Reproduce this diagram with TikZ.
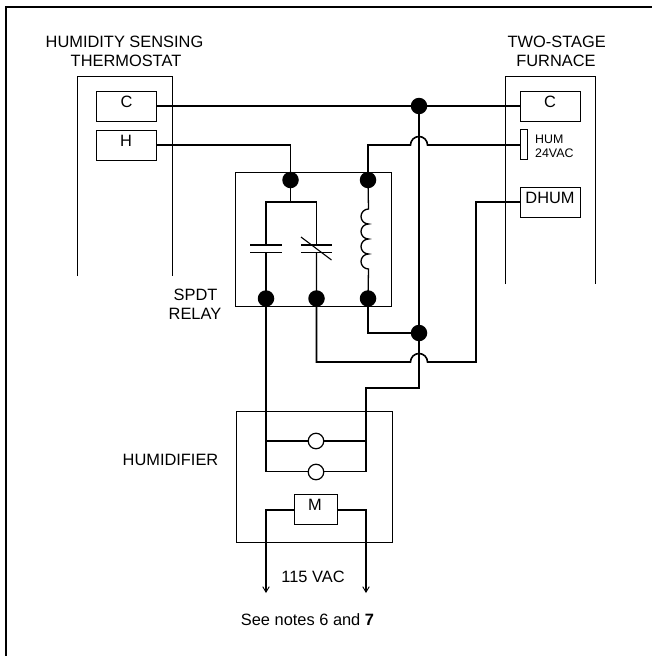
\documentclass[tikz,border=0pt]{standalone}
\usepackage{fontspec}
\setmainfont{Liberation Sans}
\usetikzlibrary{arrows.meta}
\tikzset{
  x=1pt,y=-1pt,
  wire/.style={line width=1.6pt,line join=miter},
  inner wire/.style={line width=1.3pt,line join=miter},
  thin box/.style={draw,line width=1pt,fill=white,inner sep=0pt},
  outline/.style={line width=1pt},
  dotj/.style={circle,fill=black,draw=none,inner sep=0pt,minimum size=16.5pt},
  lamp/.style={circle,fill=white,draw=black,line width=1.2pt,inner sep=0pt,minimum size=15.5pt},
  lbl/.style={font=\fontsize{16.4}{18}\selectfont,inner sep=0pt,align=center},
  small/.style={font=\fontsize{12.4}{14}\selectfont,inner sep=0pt,align=left,anchor=west},
  tip/.style={-{Straight Barb[length=5.5pt,width=6.5pt,line width=0.9pt]}}
}
\begin{document}
\begin{tikzpicture}
\useasboundingbox (0,0) rectangle (652,656);
\draw[line width=2pt] (6.3,6.8) -- (652,6.8);
\draw[line width=2pt] (6.3,656) -- (6.3,5.8);
% enclosures
\draw[outline] (77,276) -- (77,76.5) -- (172,76.5) -- (172,276);
\draw[outline] (505.7,284) -- (505.7,76.5) -- (595,76.5) -- (595,284);
\node[lbl] (t1) at (124.5,42) {HUMIDITY SENSING};
\node[lbl] (t2) at (126,61) {THERMOSTAT};
\node[lbl] (t3) at (556.7,42) {TWO-STAGE};
\node[lbl] (t4) at (556,61) {FURNACE};
\node[lbl] (t5) at (195.5,295) {SPDT};
\node[lbl] (t6) at (195,314) {RELAY};
% boxes
\node[thin box,minimum width=59.5pt,minimum height=29.5pt] (tc) at (126.7,106.3) {};
\node[lbl] (tct) at (126.5,102) {C};
\node[thin box,minimum width=59.5pt,minimum height=30pt] (th) at (126.7,145) {};
\node[lbl] (tht) at (126,141) {H};
\node[thin box,minimum width=59.5pt,minimum height=29.5pt] (fc) at (550.3,106.3) {};
\node[lbl] (fct) at (550,102) {C};
\node[thin box,minimum width=7.5pt,minimum height=30pt] (fh) at (524.2,144.5) {};
\node[small] (h1) at (535,139) {HUM};
\node[small] (h2) at (535,153.5) {24VAC};
\node[thin box,minimum width=59.5pt,minimum height=30pt] (fd) at (550.3,202) {};
\node[lbl] (fdt) at (550,198) {DHUM};
% relay
\draw[outline] (235.5,172.5) rectangle (391.5,306);
\coordinate (j1) at (419,106);
\coordinate (j2) at (419,333);
\coordinate (r1) at (290.5,180);
\coordinate (r2) at (368,180);
\coordinate (r3) at (266,298.5);
\coordinate (r4) at (316.5,298.5);
\coordinate (r5) at (368,298.5);
% wires
\draw[wire] (tc.east |- j1) -- (fc.west |- j1);
\draw[wire] (th.east) -| (r1);
\draw[wire] (fh.west |- 0,145) -- (427.5,145) arc[start angle=0,end angle=-180,radius=8.5] -- (368,145) -- (r2);
\draw[wire] (j1) -- (419,388) -- (366,388) -- (366,471.5);
\draw[wire] (r5) |- (j2);
\draw[wire] (r4) |- (410.5,362) arc[start angle=180,end angle=360,radius=8.5] -- (476,362) |- (fd.west);
\draw[wire] (r3) -- (266,471.5) -- (366,471.5);
\draw[wire] (266,441) -- (366,441);
% relay inside
\draw[inner wire] (r1) -- (290.5,202);
\draw[inner wire] (r3) -- (266,252.7);
\draw[inner wire] (266,245) -- (266,202) -- (316.4,202) -- (316.4,245);
\draw[inner wire] (316.4,252.7) -- (r4);
\draw[line width=1.3pt] (250,245) -- (281.5,245) (250,252.7) -- (281.5,252.7);
\draw[line width=1.3pt] (301,245) -- (332,245) (301,252.7) -- (332,252.7);
\draw[line width=1.1pt] (301,237) -- (331.5,260);
\draw[inner wire] (r2) -- (368.5,209)
  arc[start angle=270,end angle=90,radius=7.5]
  arc[start angle=270,end angle=90,radius=7.5]
  arc[start angle=270,end angle=90,radius=7.5]
  arc[start angle=270,end angle=90,radius=7.5]
  -- (r5);
% dots
\foreach \p/\n in {j1/d1,j2/d2,r1/d3,r2/d4,r3/d5,r4/d6,r5/d7}
  \node[dotj] (\n) at (\p) {};
% humidifier
\draw[outline] (236.5,411.5) rectangle (392,542);
\node[lamp] (l1) at (316,441) {};
\node[lamp] (l2) at (316,472) {};
\node[thin box,minimum width=42.5pt,minimum height=30.5pt] (m) at (316,509.7) {};
\node[lbl] (mt) at (315,505) {M};
\coordinate (a1) at (266,593);
\coordinate (a2) at (366,593);
\draw[wire,tip] (m.west) -| (a1);
\draw[wire,tip] (m.east) -| (a2);
\node[lbl] (t7) at (313,577) {115 VAC};
\node[lbl] (t8) at (307.5,620) {See notes 6 and \textbf{7}};
\node[lbl] (t9) at (170.5,460) {HUMIDIFIER};
\end{tikzpicture}
\end{document}
